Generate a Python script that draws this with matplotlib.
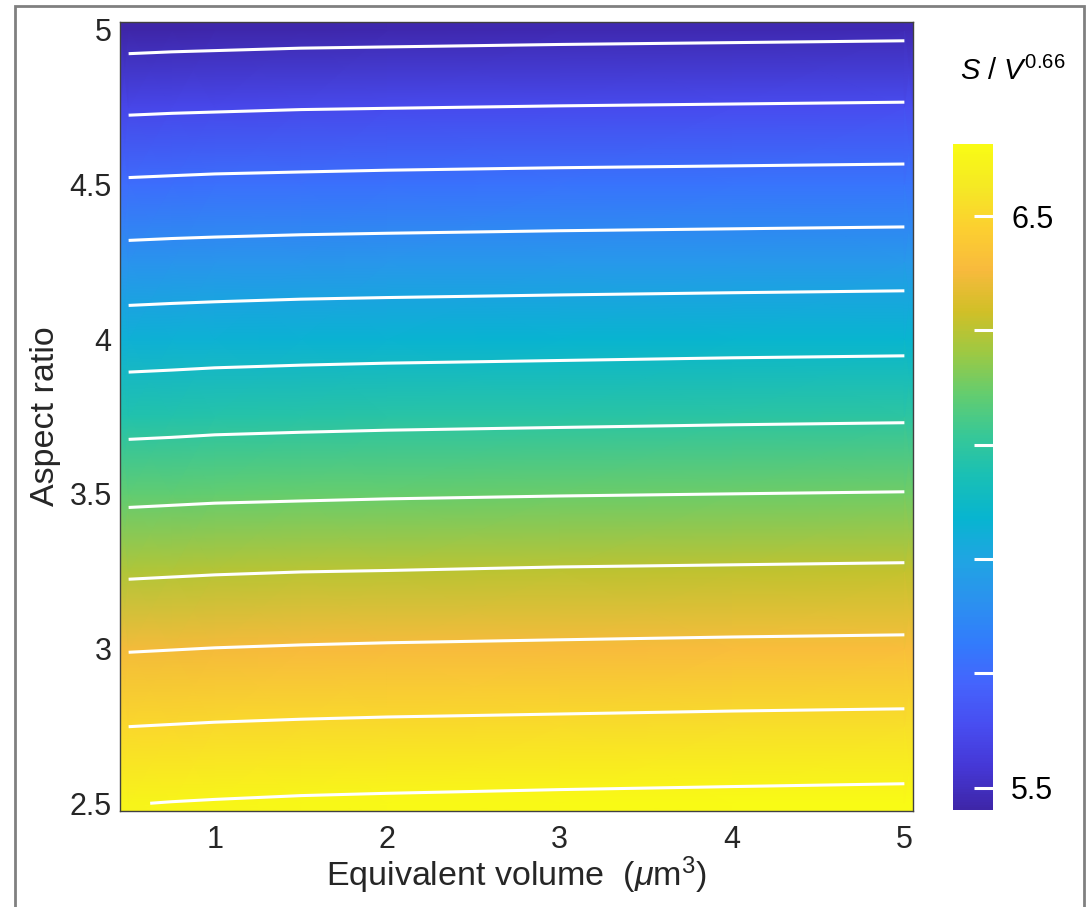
import numpy as np
import matplotlib
matplotlib.use("Agg")
import matplotlib.pyplot as plt
from matplotlib.colors import LinearSegmentedColormap
from matplotlib.patches import Rectangle

plt.rcParams['font.family'] = ['Liberation Sans', 'DejaVu Sans']
plt.rcParams['mathtext.fontset'] = 'custom'
plt.rcParams['mathtext.rm'] = 'Liberation Sans'
plt.rcParams['mathtext.it'] = 'Liberation Sans:italic'

# grid
volume = [0.5, 0.75, 1, 1.5, 2, 3, 4, 5]
aspect = [2.5, 2.75, 3.0, 3.25, 3.5, 3.75, 4.0, 4.25, 4.5, 4.75, 5.0]
ratio = [
    [6.598, 6.602, 6.605, 6.610, 6.613, 6.618, 6.622, 6.626],
    [6.499, 6.502, 6.505, 6.509, 6.512, 6.516, 6.520, 6.523],
    [6.395, 6.398, 6.401, 6.405, 6.408, 6.412, 6.416, 6.419],
    [6.289, 6.292, 6.295, 6.299, 6.301, 6.306, 6.309, 6.312],
    [6.181, 6.184, 6.187, 6.190, 6.193, 6.197, 6.200, 6.203],
    [6.066, 6.069, 6.073, 6.077, 6.080, 6.084, 6.088, 6.091],
    [5.951, 5.954, 5.957, 5.961, 5.964, 5.968, 5.972, 5.975],
    [5.834, 5.837, 5.839, 5.843, 5.845, 5.849, 5.852, 5.855],
    [5.711, 5.714, 5.717, 5.720, 5.723, 5.727, 5.730, 5.733],
    [5.587, 5.590, 5.592, 5.596, 5.598, 5.602, 5.605, 5.608],
    [5.461, 5.464, 5.466, 5.470, 5.472, 5.476, 5.479, 5.482],
]
levels = [5.5, 5.6, 5.7, 5.8, 5.9, 6.0, 6.1, 6.2, 6.3, 6.4, 6.5, 6.6]
x_ticks = [1, 2, 3, 4, 5]
y_ticks = [2.5, 3, 3.5, 4, 4.5, 5]
y_ticklabels = ['2.5', '3', '3.5', '4', '4.5', '5']
cb_ticks = [5.5, 5.7, 5.9, 6.1, 6.3, 6.5]
cb_ticklabels = ['5.5', '', '', '', '', '6.5']

# MATLAB parula (subsampled)
parula = LinearSegmentedColormap.from_list('parula', [
    (0.2422, 0.1504, 0.6603), (0.2706, 0.2147, 0.8364), (0.2813, 0.3006, 0.9414),
    (0.2699, 0.3892, 0.9906), (0.1963, 0.4847, 0.9892), (0.1687, 0.5703, 0.9359),
    (0.1248, 0.6459, 0.8883), (0.0297, 0.7082, 0.8163), (0.0964, 0.7500, 0.7120),
    (0.2161, 0.7843, 0.5923), (0.3909, 0.8029, 0.4354), (0.6174, 0.7876, 0.2612),
    (0.8203, 0.7498, 0.1535), (0.9728, 0.7298, 0.2394), (0.9892, 0.8136, 0.1885),
    (0.9597, 0.9135, 0.1423), (0.9769, 0.9839, 0.0805)], N=256)

W, H = 1091, 907
fig = plt.figure(figsize=(W / 100, H / 100), dpi=100)
ax = fig.add_axes([120 / W, 1 - 811 / H, (913 - 120) / W, (811 - 22) / H])
cax = fig.add_axes([953 / W, 1 - 810 / H, 40 / W, 666 / H])

Z = np.array(ratio)
# pad edges so the shading fills the half cell around the data grid
Zp = np.pad(Z, 1, mode='edge')
Vp = [0.45] + volume + [5.05]
Ap = [2.475] + aspect + [5.025]
mesh = ax.pcolormesh(Vp, Ap, Zp, shading='gouraud', cmap=parula,
                     vmin=Z.min(), vmax=Z.max())
ax.contour(volume, aspect, Z, levels=levels, colors='white', linewidths=2.2)

ax.set_xlim(0.45, 5.05)
ax.set_ylim(2.475, 5.025)
ax.set_xticks(x_ticks)
ax.set_xticklabels([str(t) for t in x_ticks])
ax.set_yticks(y_ticks)
ax.set_yticklabels(y_ticklabels)
ax.tick_params(length=0, labelsize=22, labelcolor='#262626')
ax.tick_params(axis='x', pad=10)
ax.tick_params(axis='y', pad=6)
for s in ax.spines.values():
    s.set_linewidth(1)
    s.set_color('#404040')
ax.set_xlabel(r'Equivalent volume  ($\mu$m$^3$)', fontsize=24.5, color='#262626', labelpad=0)
ax.set_ylabel('Aspect ratio', fontsize=24.5, color='#262626', labelpad=6)

cb = fig.colorbar(mesh, cax=cax, ticks=cb_ticks)
cb.outline.set_visible(False)
cax.set_yticklabels(cb_ticklabels)
cax.tick_params(direction='in', length=14, width=2.2, color='white',
                labelsize=22, pad=13, labelcolor='black')
fig.text(960 / W, 1 - 80 / H, r'$\mathit{S\ /\ V^{0.66}}$', fontsize=21,
         ha='left', va='baseline')

fig.add_artist(Rectangle((15 / W, -0.05), (1084 - 15) / W, 1.05 - 6 / H,
                         transform=fig.transFigure, fill=False,
                         ec='#808080', lw=2))

fig.savefig('out.png', dpi=100)
